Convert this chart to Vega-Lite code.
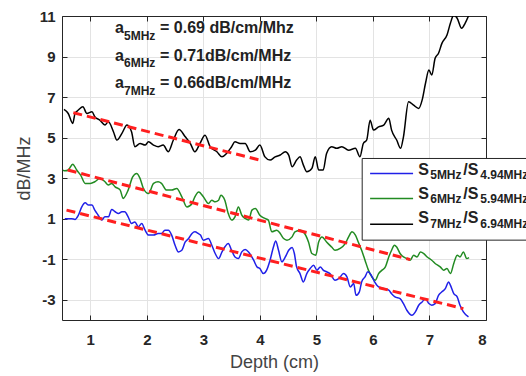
{
  "$schema": "https://vega.github.io/schema/vega-lite/v6.json",
  "width": 424,
  "height": 304,
  "autosize": {"type": "none"},
  "padding": {"left": 62, "top": 16, "right": 40, "bottom": 56},
  "background": "white",
  "config": {
    "view": {"stroke": null},
    "font": "Liberation Sans",
    "axis": {"domainColor": "#262626", "tickColor": "#262626", "gridColor": "#e3e3e3", "labelFont": "Liberation Sans", "titleFont": "Liberation Sans"}
  },
  "datasets": {
    "curves": [
      {"series":"S7","x":0.535,"y":6.39},{"series":"S7","x":0.61,"y":6.19},{"series":"S7","x":0.69,"y":5.7},{"series":"S7","x":0.73,"y":6.19},{"series":"S7","x":0.79,"y":6.36},{"series":"S7","x":0.87,"y":6.52},{"series":"S7","x":0.94,"y":6.19},{"series":"S7","x":1.03,"y":6.27},{"series":"S7","x":1.08,"y":6.03},{"series":"S7","x":1.17,"y":5.86},{"series":"S7","x":1.26,"y":5.62},{"series":"S7","x":1.32,"y":5.78},{"series":"S7","x":1.41,"y":5.29},{"series":"S7","x":1.47,"y":4.88},{"series":"S7","x":1.56,"y":5.21},{"series":"S7","x":1.65,"y":5.62},{"series":"S7","x":1.73,"y":5.29},{"series":"S7","x":1.79,"y":4.55},{"series":"S7","x":1.88,"y":4.71},{"series":"S7","x":1.97,"y":4.63},{"series":"S7","x":2.03,"y":4.79},{"series":"S7","x":2.12,"y":4.63},{"series":"S7","x":2.2,"y":4.55},{"series":"S7","x":2.29,"y":4.63},{"series":"S7","x":2.38,"y":4.3},{"series":"S7","x":2.47,"y":4.88},{"series":"S7","x":2.57,"y":5.4},{"series":"S7","x":2.68,"y":5.04},{"series":"S7","x":2.77,"y":4.71},{"series":"S7","x":2.85,"y":4.3},{"series":"S7","x":2.94,"y":4.71},{"series":"S7","x":3.03,"y":5.12},{"series":"S7","x":3.12,"y":4.55},{"series":"S7","x":3.24,"y":4.3},{"series":"S7","x":3.33,"y":4.05},{"series":"S7","x":3.41,"y":4.22},{"series":"S7","x":3.5,"y":4.55},{"series":"S7","x":3.56,"y":4.79},{"series":"S7","x":3.65,"y":4.71},{"series":"S7","x":3.74,"y":4.71},{"series":"S7","x":3.83,"y":4.3},{"series":"S7","x":3.92,"y":4.38},{"series":"S7","x":4.0,"y":4.63},{"series":"S7","x":4.09,"y":4.05},{"series":"S7","x":4.18,"y":3.89},{"series":"S7","x":4.27,"y":4.05},{"series":"S7","x":4.36,"y":4.14},{"series":"S7","x":4.45,"y":4.3},{"series":"S7","x":4.51,"y":4.14},{"series":"S7","x":4.57,"y":3.56},{"series":"S7","x":4.65,"y":3.89},{"series":"S7","x":4.71,"y":4.05},{"series":"S7","x":4.77,"y":3.64},{"series":"S7","x":4.83,"y":3.31},{"series":"S7","x":4.92,"y":3.48},{"series":"S7","x":4.98,"y":4.05},{"series":"S7","x":5.04,"y":3.4},{"series":"S7","x":5.12,"y":3.4},{"series":"S7","x":5.18,"y":4.22},{"series":"S7","x":5.27,"y":4.55},{"series":"S7","x":5.36,"y":4.47},{"series":"S7","x":5.45,"y":4.55},{"series":"S7","x":5.57,"y":4.38},{"series":"S7","x":5.69,"y":4.47},{"series":"S7","x":5.77,"y":4.05},{"series":"S7","x":5.83,"y":4.71},{"series":"S7","x":5.89,"y":4.88},{"series":"S7","x":5.95,"y":5.86},{"series":"S7","x":6.01,"y":5.37},{"series":"S7","x":6.1,"y":5.53},{"series":"S7","x":6.19,"y":5.62},{"series":"S7","x":6.28,"y":5.95},{"series":"S7","x":6.33,"y":5.37},{"series":"S7","x":6.42,"y":4.88},{"series":"S7","x":6.49,"y":4.47},{"series":"S7","x":6.54,"y":5.04},{"series":"S7","x":6.63,"y":6.77},{"series":"S7","x":6.72,"y":6.6},{"series":"S7","x":6.81,"y":6.44},{"series":"S7","x":6.87,"y":6.85},{"series":"S7","x":6.93,"y":7.68},{"series":"S7","x":6.99,"y":8.33},{"series":"S7","x":7.04,"y":8.09},{"series":"S7","x":7.1,"y":8.91},{"series":"S7","x":7.16,"y":9.16},{"series":"S7","x":7.22,"y":9.65},{"series":"S7","x":7.31,"y":10.06},{"series":"S7","x":7.37,"y":10.64},{"series":"S7","x":7.43,"y":11.05},{"series":"S7","x":7.49,"y":10.89},{"series":"S7","x":7.57,"y":10.39},{"series":"S7","x":7.63,"y":10.64},{"series":"S7","x":7.72,"y":11.2},
      {"series":"S6","x":0.52,"y":3.4},{"series":"S6","x":0.55,"y":3.36},{"series":"S6","x":0.61,"y":3.4},{"series":"S6","x":0.69,"y":3.69},{"series":"S6","x":0.76,"y":3.4},{"series":"S6","x":0.83,"y":3.15},{"series":"S6","x":0.91,"y":2.74},{"series":"S6","x":1.0,"y":2.74},{"series":"S6","x":1.08,"y":2.82},{"series":"S6","x":1.17,"y":2.99},{"series":"S6","x":1.26,"y":2.82},{"series":"S6","x":1.32,"y":2.66},{"series":"S6","x":1.38,"y":2.74},{"series":"S6","x":1.44,"y":2.57},{"series":"S6","x":1.53,"y":2.41},{"series":"S6","x":1.58,"y":2.0},{"series":"S6","x":1.67,"y":2.41},{"series":"S6","x":1.75,"y":3.06},{"series":"S6","x":1.82,"y":3.23},{"series":"S6","x":1.88,"y":2.99},{"series":"S6","x":1.94,"y":2.49},{"series":"S6","x":2.03,"y":2.24},{"series":"S6","x":2.12,"y":2.74},{"series":"S6","x":2.2,"y":2.82},{"series":"S6","x":2.26,"y":2.74},{"series":"S6","x":2.35,"y":2.41},{"series":"S6","x":2.44,"y":2.41},{"series":"S6","x":2.53,"y":2.49},{"series":"S6","x":2.62,"y":2.08},{"series":"S6","x":2.71,"y":1.58},{"series":"S6","x":2.8,"y":1.75},{"series":"S6","x":2.85,"y":2.08},{"series":"S6","x":2.92,"y":2.32},{"series":"S6","x":3.0,"y":2.08},{"series":"S6","x":3.09,"y":1.75},{"series":"S6","x":3.15,"y":1.91},{"series":"S6","x":3.21,"y":1.83},{"series":"S6","x":3.27,"y":1.91},{"series":"S6","x":3.31,"y":2.16},{"series":"S6","x":3.38,"y":1.91},{"series":"S6","x":3.44,"y":1.26},{"series":"S6","x":3.5,"y":0.93},{"series":"S6","x":3.56,"y":1.09},{"series":"S6","x":3.62,"y":1.58},{"series":"S6","x":3.68,"y":1.17},{"series":"S6","x":3.74,"y":1.01},{"series":"S6","x":3.8,"y":0.93},{"series":"S6","x":3.86,"y":1.42},{"series":"S6","x":3.92,"y":1.5},{"series":"S6","x":4.0,"y":1.17},{"series":"S6","x":4.09,"y":1.01},{"series":"S6","x":4.15,"y":0.93},{"series":"S6","x":4.21,"y":0.35},{"series":"S6","x":4.3,"y":0.43},{"series":"S6","x":4.36,"y":0.27},{"series":"S6","x":4.42,"y":0.02},{"series":"S6","x":4.48,"y":-0.06},{"series":"S6","x":4.57,"y":0.1},{"series":"S6","x":4.62,"y":0.35},{"series":"S6","x":4.71,"y":0.43},{"series":"S6","x":4.77,"y":0.35},{"series":"S6","x":4.86,"y":-0.15},{"series":"S6","x":4.92,"y":-0.72},{"series":"S6","x":4.99,"y":-0.8},{"series":"S6","x":5.04,"y":-0.15},{"series":"S6","x":5.1,"y":0.1},{"series":"S6","x":5.18,"y":-0.15},{"series":"S6","x":5.27,"y":-0.4},{"series":"S6","x":5.33,"y":-0.56},{"series":"S6","x":5.42,"y":-0.47},{"series":"S6","x":5.51,"y":-0.23},{"series":"S6","x":5.57,"y":0.1},{"series":"S6","x":5.63,"y":0.35},{"series":"S6","x":5.69,"y":0.19},{"series":"S6","x":5.74,"y":-0.15},{"series":"S6","x":5.8,"y":-0.56},{"series":"S6","x":5.86,"y":-1.05},{"series":"S6","x":5.92,"y":-1.54},{"series":"S6","x":5.98,"y":-1.87},{"series":"S6","x":6.04,"y":-2.04},{"series":"S6","x":6.1,"y":-1.71},{"series":"S6","x":6.16,"y":-1.54},{"series":"S6","x":6.22,"y":-1.38},{"series":"S6","x":6.28,"y":-0.89},{"series":"S6","x":6.33,"y":-0.56},{"series":"S6","x":6.38,"y":-0.31},{"series":"S6","x":6.42,"y":-0.4},{"series":"S6","x":6.48,"y":-0.72},{"series":"S6","x":6.54,"y":-0.89},{"series":"S6","x":6.6,"y":-0.97},{"series":"S6","x":6.66,"y":-1.05},{"series":"S6","x":6.72,"y":-0.8},{"series":"S6","x":6.78,"y":-0.89},{"series":"S6","x":6.84,"y":-0.64},{"series":"S6","x":6.9,"y":-0.72},{"series":"S6","x":6.96,"y":-0.89},{"series":"S6","x":7.04,"y":-1.05},{"series":"S6","x":7.1,"y":-1.21},{"series":"S6","x":7.19,"y":-1.38},{"series":"S6","x":7.25,"y":-1.54},{"series":"S6","x":7.31,"y":-1.46},{"series":"S6","x":7.37,"y":-1.71},{"series":"S6","x":7.43,"y":-1.21},{"series":"S6","x":7.49,"y":-0.8},{"series":"S6","x":7.54,"y":-0.89},{"series":"S6","x":7.6,"y":-0.64},{"series":"S6","x":7.66,"y":-0.97},{"series":"S6","x":7.7,"y":-0.92},
      {"series":"S5","x":0.55,"y":1.0},{"series":"S5","x":0.58,"y":1.0},{"series":"S5","x":0.67,"y":1.0},{"series":"S5","x":0.73,"y":0.96},{"series":"S5","x":0.79,"y":1.17},{"series":"S5","x":0.85,"y":1.58},{"series":"S5","x":0.91,"y":1.78},{"series":"S5","x":0.97,"y":1.67},{"series":"S5","x":1.03,"y":1.67},{"series":"S5","x":1.08,"y":1.42},{"series":"S5","x":1.14,"y":1.17},{"series":"S5","x":1.2,"y":0.93},{"series":"S5","x":1.26,"y":1.09},{"series":"S5","x":1.32,"y":1.09},{"series":"S5","x":1.38,"y":1.45},{"series":"S5","x":1.44,"y":1.34},{"series":"S5","x":1.5,"y":1.26},{"series":"S5","x":1.56,"y":1.34},{"series":"S5","x":1.61,"y":1.34},{"series":"S5","x":1.67,"y":1.09},{"series":"S5","x":1.73,"y":0.76},{"series":"S5","x":1.79,"y":0.84},{"series":"S5","x":1.85,"y":0.6},{"series":"S5","x":1.91,"y":0.76},{"series":"S5","x":1.97,"y":0.43},{"series":"S5","x":2.03,"y":0.19},{"series":"S5","x":2.12,"y":0.19},{"series":"S5","x":2.2,"y":0.27},{"series":"S5","x":2.26,"y":0.27},{"series":"S5","x":2.32,"y":0.43},{"series":"S5","x":2.38,"y":0.43},{"series":"S5","x":2.44,"y":0.19},{"series":"S5","x":2.5,"y":-0.31},{"series":"S5","x":2.56,"y":-0.64},{"series":"S5","x":2.62,"y":-0.56},{"series":"S5","x":2.68,"y":-0.15},{"series":"S5","x":2.74,"y":0.02},{"series":"S5","x":2.8,"y":0.27},{"series":"S5","x":2.85,"y":0.35},{"series":"S5","x":2.91,"y":0.27},{"series":"S5","x":2.95,"y":0.19},{"series":"S5","x":3.0,"y":-0.06},{"series":"S5","x":3.09,"y":0.02},{"series":"S5","x":3.15,"y":-0.31},{"series":"S5","x":3.21,"y":-0.72},{"series":"S5","x":3.27,"y":-0.97},{"series":"S5","x":3.33,"y":-0.64},{"series":"S5","x":3.38,"y":-0.4},{"series":"S5","x":3.44,"y":-0.23},{"series":"S5","x":3.5,"y":-0.56},{"series":"S5","x":3.56,"y":-0.89},{"series":"S5","x":3.62,"y":-0.97},{"series":"S5","x":3.68,"y":-0.64},{"series":"S5","x":3.74,"y":-0.52},{"series":"S5","x":3.8,"y":-0.64},{"series":"S5","x":3.89,"y":-1.05},{"series":"S5","x":3.95,"y":-1.38},{"series":"S5","x":4.0,"y":-1.46},{"series":"S5","x":4.06,"y":-1.71},{"series":"S5","x":4.12,"y":-1.54},{"series":"S5","x":4.18,"y":-1.05},{"series":"S5","x":4.24,"y":-0.4},{"series":"S5","x":4.28,"y":-0.1},{"series":"S5","x":4.33,"y":-0.56},{"series":"S5","x":4.39,"y":-1.13},{"series":"S5","x":4.45,"y":-0.89},{"series":"S5","x":4.51,"y":-0.56},{"series":"S5","x":4.57,"y":-0.42},{"series":"S5","x":4.61,"y":-0.72},{"series":"S5","x":4.65,"y":-1.38},{"series":"S5","x":4.71,"y":-1.71},{"series":"S5","x":4.77,"y":-2.12},{"series":"S5","x":4.83,"y":-1.71},{"series":"S5","x":4.89,"y":-1.46},{"series":"S5","x":4.95,"y":-1.3},{"series":"S5","x":5.01,"y":-1.54},{"series":"S5","x":5.07,"y":-1.38},{"series":"S5","x":5.12,"y":-1.54},{"series":"S5","x":5.18,"y":-1.62},{"series":"S5","x":5.24,"y":-1.71},{"series":"S5","x":5.33,"y":-2.04},{"series":"S5","x":5.4,"y":-1.95},{"series":"S5","x":5.48,"y":-1.71},{"series":"S5","x":5.54,"y":-1.87},{"series":"S5","x":5.6,"y":-2.37},{"series":"S5","x":5.66,"y":-2.2},{"series":"S5","x":5.7,"y":-2.78},{"series":"S5","x":5.76,"y":-2.61},{"series":"S5","x":5.8,"y":-2.12},{"series":"S5","x":5.86,"y":-1.87},{"series":"S5","x":5.91,"y":-1.62},{"series":"S5","x":5.97,"y":-1.79},{"series":"S5","x":6.03,"y":-2.12},{"series":"S5","x":6.1,"y":-2.37},{"series":"S5","x":6.19,"y":-2.45},{"series":"S5","x":6.28,"y":-2.53},{"series":"S5","x":6.33,"y":-2.7},{"series":"S5","x":6.39,"y":-2.86},{"series":"S5","x":6.48,"y":-2.95},{"series":"S5","x":6.54,"y":-3.19},{"series":"S5","x":6.6,"y":-3.52},{"series":"S5","x":6.69,"y":-3.77},{"series":"S5","x":6.75,"y":-3.6},{"series":"S5","x":6.81,"y":-3.27},{"series":"S5","x":6.87,"y":-3.11},{"series":"S5","x":6.93,"y":-2.95},{"series":"S5","x":6.99,"y":-3.19},{"series":"S5","x":7.04,"y":-3.27},{"series":"S5","x":7.1,"y":-3.19},{"series":"S5","x":7.16,"y":-2.78},{"series":"S5","x":7.22,"y":-2.61},{"series":"S5","x":7.28,"y":-2.45},{"series":"S5","x":7.34,"y":-2.12},{"series":"S5","x":7.37,"y":-2.28},{"series":"S5","x":7.43,"y":-2.7},{"series":"S5","x":7.49,"y":-2.86},{"series":"S5","x":7.54,"y":-3.27},{"series":"S5","x":7.6,"y":-3.6},{"series":"S5","x":7.69,"y":-3.85}
    ],
    "fits": [
      {"series":"S5","x":0.58,"y":1.42},{"series":"S5","x":7.6,"y":-3.44},
      {"series":"S6","x":0.6,"y":3.4},{"series":"S6","x":6.66,"y":-1.02},
      {"series":"S7","x":0.7,"y":6.23},{"series":"S7","x":4.0,"y":3.89}
    ],
    "legendbox": [{"x1":5.81,"x2":9.4,"y1":-0.06,"y2":3.97}],
    "legendlines": [
      {"series":"S5","x1":5.95,"x2":6.71,"y":3.23},
      {"series":"S6","x1":5.95,"x2":6.71,"y":2.0},
      {"series":"S7","x1":5.95,"x2":6.71,"y":0.73}
    ],
    "maintext": [
      {"x":1.438,"y":10.16,"t":"a"},{"x":2.234,"y":10.16,"t":"= 0.69 dB/cm/Mhz"},
      {"x":1.438,"y":8.79,"t":"a"},{"x":2.234,"y":8.79,"t":"= 0.71dB/cm/MHz"},
      {"x":1.438,"y":7.43,"t":"a"},{"x":2.234,"y":7.43,"t":"= 0.66dB/cm/MHz"},
      {"x":6.8,"y":3.148,"t":"S"},{"x":7.597,"y":3.148,"t":"/S"},
      {"x":6.8,"y":1.948,"t":"S"},{"x":7.597,"y":1.948,"t":"/S"},
      {"x":6.8,"y":0.763,"t":"S"},{"x":7.597,"y":0.763,"t":"/S"}
    ],
    "subtext": [
      {"x":1.597,"y":9.84,"t":"5MHz"},{"x":1.597,"y":8.48,"t":"6MHz"},{"x":1.597,"y":7.12,"t":"7MHz"},
      {"x":7.013,"y":2.951,"t":"5MHz"},{"x":7.898,"y":2.951,"t":"4.94MHz"},
      {"x":7.013,"y":1.751,"t":"6MHz"},{"x":7.898,"y":1.751,"t":"5.94MHz"},
      {"x":7.013,"y":0.516,"t":"7MHz"},{"x":7.898,"y":0.516,"t":"6.94MHz"}
    ]
  },
  "resolve": {"axis": {"x": "independent", "y": "independent"}},
  "layer": [
    {
      "data": {"name": "curves"},
      "mark": {"type": "line", "strokeWidth": 1.5, "clip": true, "interpolate": "monotone"},
      "encoding": {
        "x": {"field": "x", "type": "quantitative", "scale": {"domain": [0.5, 8], "nice": false, "zero": false},
          "axis": {"orient": "bottom", "values": [1,2,3,4,5,6,7,8], "grid": true, "tickSize": -5, "labelPadding": 17, "labelFontSize": 15, "labelFontWeight": "bold", "labelColor": "#262626", "title": "Depth (cm)", "titleFontSize": 18, "titleFontWeight": "normal", "titleColor": "#444444", "titlePadding": 6}},
        "y": {"field": "y", "type": "quantitative", "scale": {"domain": [-4, 11], "nice": false, "zero": false},
          "axis": {"orient": "left", "values": [-3,-1,1,3,5,7,9,11], "labelExpr": "'' + datum.value", "grid": true, "tickSize": -5, "labelPadding": 12, "labelFontSize": 15, "labelFontWeight": "bold", "labelColor": "#262626", "title": "dB/MHz", "titleFontSize": 18, "titleFontWeight": "normal", "titleColor": "#444444", "titlePadding": 6}},
        "color": {"field": "series", "type": "nominal", "scale": {"domain": ["S5","S6","S7"], "range": ["#2020e8","#228b22","#000000"]}, "legend": null},
        "order": {"field": "x", "type": "quantitative"}
      }
    },
    {
      "data": {"name": "fits"},
      "mark": {"type": "line", "strokeWidth": 3, "strokeDash": [9, 5], "color": "#ff1f1f", "clip": true},
      "encoding": {
        "x": {"field": "x", "type": "quantitative", "axis": {"orient": "top", "values": [1,2,3,4,5,6,7,8], "grid": false, "labels": false, "tickSize": -5, "title": null}},
        "y": {"field": "y", "type": "quantitative", "axis": {"orient": "right", "values": [-3,-1,1,3,5,7,9,11], "grid": false, "labels": false, "tickSize": -5, "title": null}},
        "detail": {"field": "series"}
      }
    },
    {
      "data": {"name": "legendbox"},
      "mark": {"type": "rect", "fill": "white", "stroke": "#262626", "strokeWidth": 1, "clip": false},
      "encoding": {
        "x": {"field": "x1", "type": "quantitative", "axis": null},
        "x2": {"field": "x2"},
        "y": {"field": "y1", "type": "quantitative", "axis": null},
        "y2": {"field": "y2"}
      }
    },
    {
      "data": {"name": "legendlines"},
      "mark": {"type": "rule", "strokeWidth": 1.5, "clip": false},
      "encoding": {
        "x": {"field": "x1", "type": "quantitative", "axis": null},
        "x2": {"field": "x2"},
        "y": {"field": "y", "type": "quantitative", "axis": null},
        "color": {"field": "series", "type": "nominal", "legend": null}
      }
    },
    {
      "data": {"name": "maintext"},
      "mark": {"type": "text", "align": "left", "baseline": "alphabetic", "font": "Liberation Sans", "fontSize": 16, "fontWeight": "bold", "color": "#222222", "clip": false},
      "encoding": {
        "x": {"field": "x", "type": "quantitative", "axis": null},
        "y": {"field": "y", "type": "quantitative", "axis": null},
        "text": {"field": "t"}
      }
    },
    {
      "data": {"name": "subtext"},
      "mark": {"type": "text", "align": "left", "baseline": "alphabetic", "font": "Liberation Sans", "fontSize": 12, "fontWeight": "bold", "color": "#222222", "clip": false},
      "encoding": {
        "x": {"field": "x", "type": "quantitative", "axis": null},
        "y": {"field": "y", "type": "quantitative", "axis": null},
        "text": {"field": "t"}
      }
    }
  ]
}
